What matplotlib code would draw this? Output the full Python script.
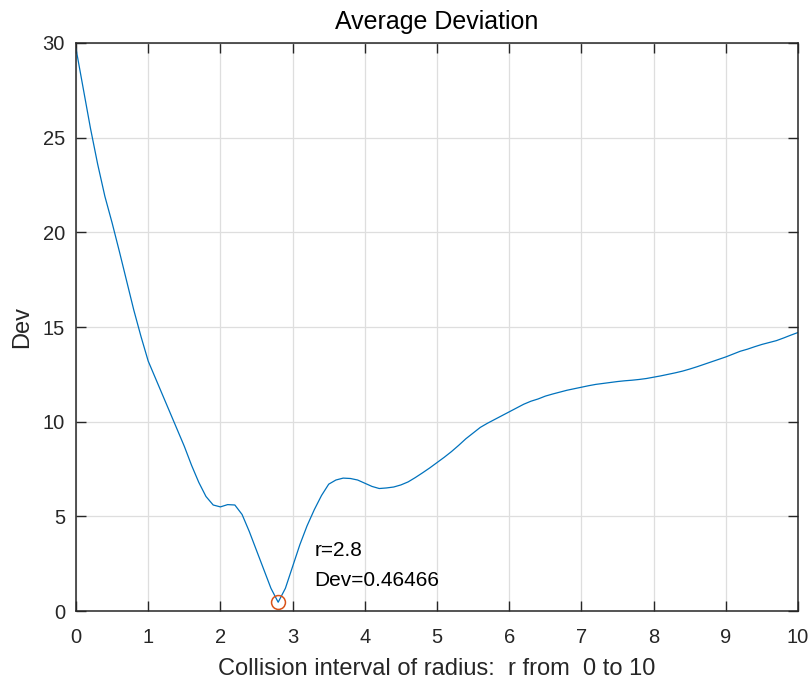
import matplotlib.pyplot as plt
import numpy as np

r = [0.0, 0.1, 0.2, 0.3, 0.4, 0.5, 0.6, 0.7, 0.8, 0.9,
     1.0, 1.1, 1.2, 1.3, 1.4, 1.5, 1.6, 1.7, 1.8, 1.9,
     2.0, 2.1, 2.2, 2.3, 2.4, 2.5, 2.6, 2.7, 2.8, 2.9,
     3.0, 3.1, 3.2, 3.3, 3.4, 3.5, 3.6, 3.7, 3.8, 3.9,
     4.0, 4.1, 4.2, 4.3, 4.4, 4.5, 4.6, 4.7, 4.8, 4.9,
     5.0, 5.1, 5.2, 5.3, 5.4, 5.5, 5.6, 5.7, 5.8, 5.9,
     6.0, 6.1, 6.2, 6.3, 6.4, 6.5, 6.6, 6.7, 6.8, 6.9,
     7.0, 7.1, 7.2, 7.3, 7.4, 7.5, 7.6, 7.7, 7.8, 7.9,
     8.0, 8.1, 8.2, 8.3, 8.4, 8.5, 8.6, 8.7, 8.8, 8.9,
     9.0, 9.1, 9.2, 9.3, 9.4, 9.5, 9.6, 9.7, 9.8, 9.9, 10.0]
dev = [29.7, 27.6, 25.5, 23.6, 21.9, 20.5, 19.0, 17.45, 15.9, 14.5,
       13.2, 12.3, 11.4, 10.5, 9.6, 8.7, 7.7, 6.8, 6.05, 5.6,
       5.5, 5.62, 5.6, 5.1, 4.2, 3.2, 2.2, 1.2, 0.46466, 1.2,
       2.35, 3.5, 4.5, 5.35, 6.1, 6.7, 6.92, 7.02, 7.0, 6.92,
       6.75, 6.58, 6.47, 6.5, 6.55, 6.66, 6.82, 7.05, 7.3, 7.56,
       7.84, 8.12, 8.42, 8.75, 9.1, 9.4, 9.7, 9.92, 10.12, 10.32,
       10.52, 10.72, 10.92, 11.08, 11.2, 11.35, 11.46, 11.56, 11.66, 11.74,
       11.82, 11.9, 11.97, 12.02, 12.07, 12.12, 12.16, 12.19, 12.23, 12.28,
       12.35, 12.42, 12.5, 12.58, 12.67, 12.78, 12.9, 13.03, 13.16, 13.29,
       13.42, 13.57, 13.72, 13.83, 13.96, 14.08, 14.18, 14.28, 14.42, 14.57, 14.71]
best_r = 2.8
best_dev = 0.46466

plt.rcParams['font.family'] = ['Liberation Sans', 'DejaVu Sans']
dark = '#262626'

fig = plt.figure(figsize=(8.12, 6.79), dpi=100)
ax = fig.add_axes([0.0936, 0.1001, 0.8892, 0.8366])

ax.plot(r, dev, color='#0072BD', lw=0.9)
ax.plot([best_r], [best_dev], 'o', mfc='none', mec='#D95319', ms=10, mew=1.1)
ax.text(best_r + 0.5, 2.4, f"r={best_r}\nDev={best_dev}", fontsize=15,
        va='center', ha='left', linespacing=1.7, color='k')

ax.set_xlim(0, 10)
ax.set_ylim(0, 30)
ax.set_xticks(np.arange(0, 11, 1))
ax.set_yticks(np.arange(0, 31, 5))
ax.grid(True, color='#dedede', lw=0.9)
ax.set_axisbelow(True)
ax.tick_params(direction='in', length=7, width=1, top=True, right=True,
               labelsize=14.5, colors=dark)
ax.tick_params(axis='x', pad=12)
ax.tick_params(axis='y', pad=8)
for s in ax.spines.values():
    s.set_color(dark)
    s.set_linewidth(1.1)

ax.set_title("Average Deviation", fontsize=18, color='k', pad=10)
ax.set_xlabel("Collision interval of radius:  r from  0 to 10", fontsize=17, color=dark, labelpad=8)
ax.set_ylabel("Dev", fontsize=17, color=dark, labelpad=7)

fig.savefig("out.png", dpi=100)
plt.close(fig)
